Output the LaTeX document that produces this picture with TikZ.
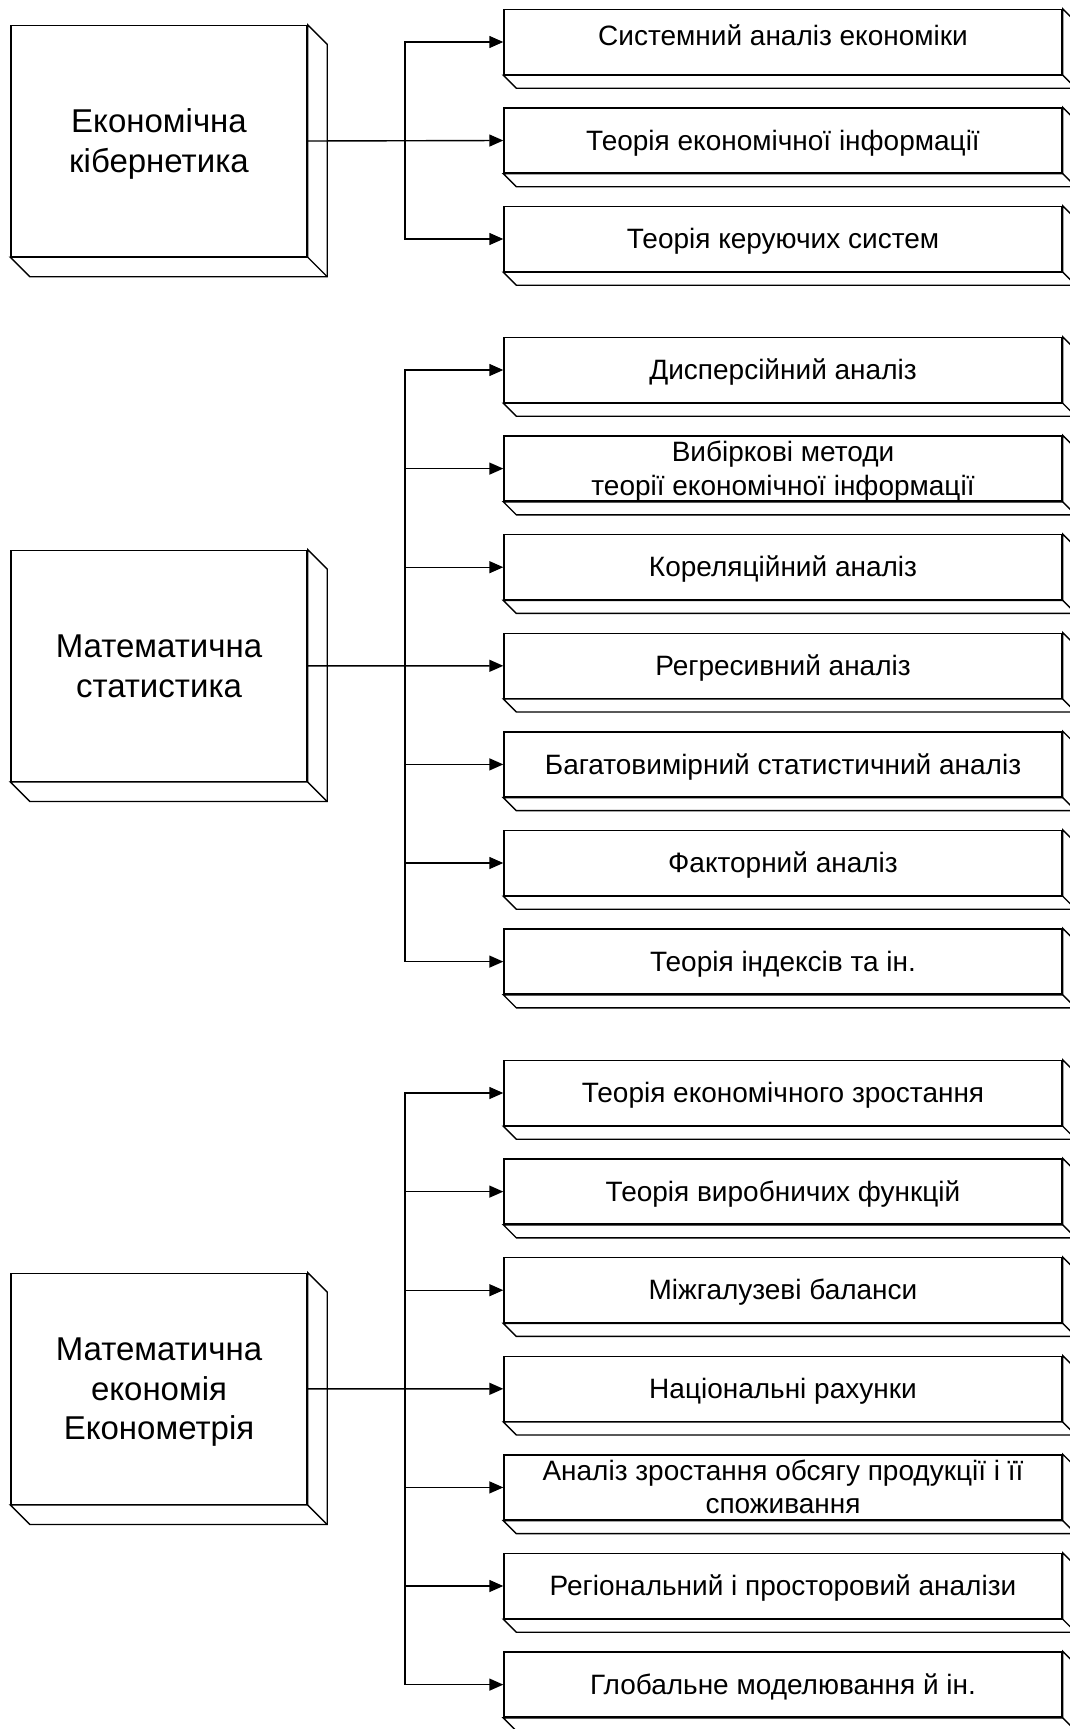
\documentclass[tikz,border=0pt]{standalone}
\usepackage{fontspec}
\setmainfont{Liberation Sans}
\usetikzlibrary{arrows.meta,positioning}

% line strut: 1.2em high, baseline as in the boxes
\newcommand{\rowstrut}{\rule[-0.253em]{0pt}{1.2em}}

% 3D depth of a box node: name, depth
\newcommand{\boxdepth}[2]{%
  \draw[line width=1.4pt,fill=white] (#1.north east) -- ++(#2,#2)
    -- ([shift={(#2,#2)}]#1.south east) -- ([shift={(#2,#2)}]#1.south west)
    -- (#1.south west) -- (#1.south east) -- cycle;
  \draw[line width=1.4pt] (#1.south east) -- ++(#2,#2);
}

\tikzset{
  bigbox/.style={draw,fill=white,line width=1.4pt,minimum width=296pt,minimum height=231pt,
    inner sep=0pt,text width=296pt,align=flush center,font=\fontsize{33}{39.6}\selectfont,
    execute at begin node=\rowstrut,execute at end node=\rowstrut},
  subbox/.style={draw,fill=white,line width=1.4pt,minimum width=558pt,minimum height=65pt,
    inner xsep=0pt,inner ysep=-2pt,text width=558pt,align=flush center,font=\fontsize{28}{33.6}\selectfont,
    execute at begin node=\rowstrut,execute at end node=\rowstrut},
  link/.style={line width=1.4pt,-{Triangle[length=14pt,width=12pt]}}
}

\begin{document}
\begin{tikzpicture}[x=1pt,y=-1pt]
\useasboundingbox (0,0) rectangle (1070,1729);

% Draw the main boxes
\node[bigbox] (kib) at (159,141) {Економічна\\кібернетика};
\boxdepth{kib}{19.5}
\node[bigbox] (stat) at (159,665.8) {Математична\\статистика};
\boxdepth{stat}{19.5}
\node[bigbox] (ekon) at (159,1388.8) {Математична\\економія\\Економетрія};
\boxdepth{ekon}{19.5}

% Draw the first group
\foreach \name/\txt [count=\i from 0] in {k1/{Системний аналіз економіки\rule[-19pt]{0pt}{19pt}},
    k2/{Теорія економічної інформації},k3/{Теорія керуючих систем}}{
  \node[subbox] (\name) at (783,42+98.5*\i) {\txt};
  \boxdepth{\name}{13}
}

% Draw the second group
\foreach \name/\txt [count=\i from 0] in {s1/{Дисперсійний аналіз},
    s2/{Вибіркові методи\\ теорії економічної інформації},s3/{Кореляційний аналіз},
    s4/{Регресивний аналіз},s5/{Багатовимірний статистичний аналіз},
    s6/{Факторний аналіз},s7/{Теорія індексів та ін.}}{
  \node[subbox] (\name) at (783,370+98.6*\i) {\txt};
  \boxdepth{\name}{13}
}

% Draw the third group
\foreach \name/\txt [count=\i from 0] in {e1/{Теорія економічного зростання},
    e2/{Теорія виробничих функцій},e3/{Міжгалузеві баланси},
    e4/{Національні рахунки},e5/{Аналіз зростання обсягу продукції і її\\ споживання},
    e6/{Регіональний і просторовий аналізи},e7/{Глобальне моделювання й ін.}}{
  \node[subbox] (\name) at (783,1093+98.6*\i) {\txt};
  \boxdepth{\name}{13}
}

% Draw the connectors
\coordinate (jk) at (405,141);
\coordinate (js) at (405,665.8);
\coordinate (je) at (405,1388.8);
\draw[link] (kib.east) -- (k2.west);
\foreach \n in {k1,k3} \draw[link] (jk) |- (\n.west);
\draw[link] (stat.east) -- (s4.west);
\foreach \n in {s1,s2,s3,s5,s6,s7} \draw[link] (js) |- (\n.west);
\draw[link] (ekon.east) -- (e4.west);
\foreach \n in {e1,e2,e3,e5,e6,e7} \draw[link] (je) |- (\n.west);
\end{tikzpicture}
\end{document}
